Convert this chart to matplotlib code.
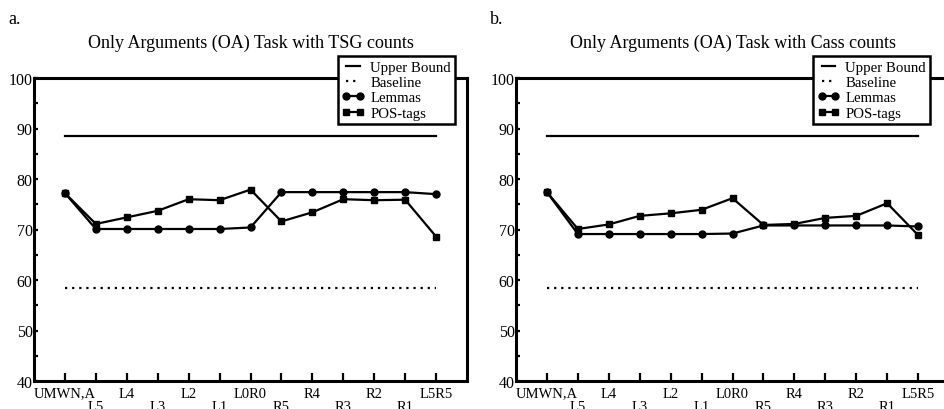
import matplotlib
matplotlib.use("Agg")
import matplotlib.pyplot as plt
from matplotlib.ticker import MultipleLocator

plt.rcParams['font.family'] = ['Liberation Serif', 'DejaVu Serif']

# window configurations on the x axis
configs = ["UMWN,A", "L5", "L4", "L3", "L2", "L1", "L0R0",
           "R5", "R4", "R3", "R2", "R1", "L5R5"]

upper_bound = 88.6
baseline = 58.4

# panel a: TSG counts
tsg_lemmas = [77.2, 70.1, 70.1, 70.1, 70.1, 70.1, 70.4,
              77.4, 77.4, 77.4, 77.4, 77.4, 77.0]
tsg_pos = [77.2, 71.1, 72.4, 73.7, 76.0, 75.8, 77.9,
           71.6, 73.4, 76.0, 75.8, 75.9, 68.6]

# panel b: Cass counts
cass_lemmas = [77.4, 69.1, 69.1, 69.1, 69.1, 69.1, 69.2,
               70.8, 70.8, 70.8, 70.8, 70.8, 70.6]
cass_pos = [77.4, 70.1, 71.0, 72.7, 73.2, 73.9, 76.2,
            70.9, 71.1, 72.3, 72.7, 75.2, 68.9]

panels = [("a.", "Only Arguments (OA) Task with TSG counts", tsg_lemmas, tsg_pos),
          ("b.", "Only Arguments (OA) Task with Cass counts", cass_lemmas, cass_pos)]

fig = plt.figure(figsize=(9.44, 4.10), dpi=100)
lefts = [34 / 944, 516 / 944]
leg_x = [0.973, 0.957]
w = 433 / 944
bottom = 28 / 410
h = 303 / 410

xs = list(range(len(configs)))
# alternate the tick labels over two rows
ticklabels = [c if i % 2 == 0 else "\n" + c for i, c in enumerate(configs)]

for k, (tag, title, lem, pos) in enumerate(panels):
    ax = fig.add_axes([lefts[k], bottom, w, h])
    ax.plot([xs[0], xs[-1]], [upper_bound, upper_bound], color="black", lw=1.6,
            label="Upper Bound")
    ax.plot([xs[0], xs[-1]], [baseline, baseline], color="black", lw=1.6,
            dashes=(1, 2.2), label="Baseline")
    ax.plot(xs, pos, color="black", lw=1.6, marker="s", ms=4.5, label="POS-tags")
    ax.plot(xs, lem, color="black", lw=1.6, marker="o", ms=5, label="Lemmas")

    ax.set_xlim(-1, 13)
    ax.set_ylim(40, 100)
    ax.set_xticks(xs)
    ax.set_xticklabels(ticklabels, fontsize=10.5, linespacing=1.05)
    ax.yaxis.set_major_locator(MultipleLocator(10))
    ax.yaxis.set_minor_locator(MultipleLocator(5))
    ax.tick_params(axis="x", direction="in", length=6, width=1.6, pad=4)
    ax.tick_params(axis="y", which="both", direction="in", length=3, width=1.6,
                   pad=1, labelsize=11.5)
    for s in ax.spines.values():
        s.set_linewidth(2.2)

    handles, labels = ax.get_legend_handles_labels()
    order = [0, 1, 3, 2]
    leg = ax.legend([handles[i] for i in order], [labels[i] for i in order],
                    loc="upper right", bbox_to_anchor=(leg_x[k], 1.073),
                    fontsize=10.7, frameon=True, fancybox=False, framealpha=1,
                    edgecolor="black", handlelength=1.5, handletextpad=0.4,
                    borderpad=0.3, labelspacing=0.13, borderaxespad=0,
                    numpoints=2)
    leg.get_frame().set_linewidth(1.8)
    leg.set_zorder(5)

    fig.text((lefts[k] * 944 - 26) / 944, 1 - 20 / 410, tag, fontsize=13,
             va="center", ha="left")
    fig.text((lefts[k] * 944 + 217) / 944, 1 - 43 / 410, title, fontsize=13,
             va="center", ha="center")

fig.savefig("out.png", dpi=100)
